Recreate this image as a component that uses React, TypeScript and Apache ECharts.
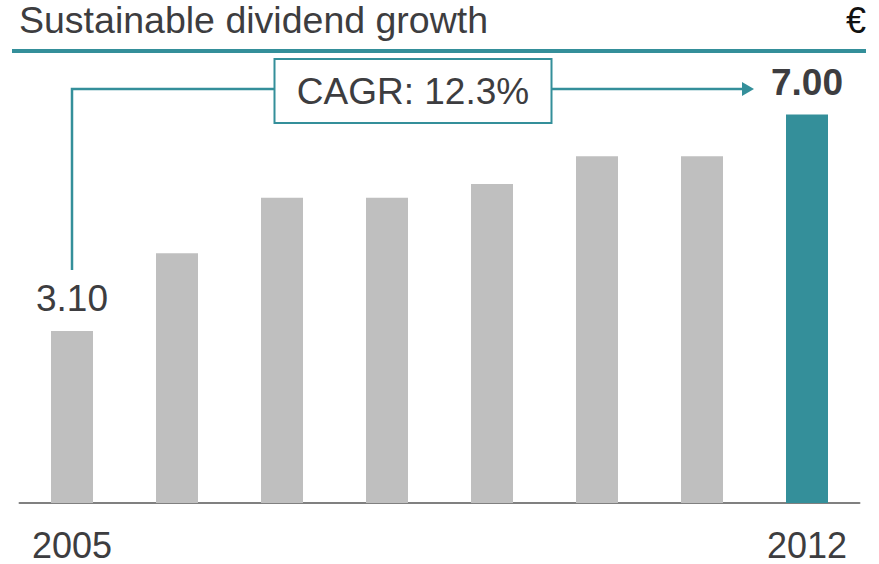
import React, { useEffect, useRef } from "react";
import * as echarts from "echarts";

const years = ["2005", "2006", "2007", "2008", "2009", "2010", "2011", "2012"];
const dividends = [3.1, 4.5, 5.5, 5.5, 5.75, 6.25, 6.25, 7.0];
const shownYearLabels = ["2005", "2012"];
const labelledIndices = [0, 7];
const titleText = "Sustainable dividend growth";
const unitText = "€";
const cagrText = "CAGR: 12.3%";

const TEAL = "#348f9a";
const GRAY = "#bfbfbf";
const TEXT = "#3d3d40";
const FONT = "'Liberation Sans', Arial, Helvetica, sans-serif";

export default function App() {
  const ref = useRef<HTMLDivElement>(null);
  useEffect(() => {
    if (!ref.current) return;
    const chart = echarts.init(ref.current, null, { renderer: "svg" });
    const last = dividends.length - 1;
    const data = dividends.map((v, i) => {
      const item: any = {
        value: v,
        itemStyle: { color: i === last ? TEAL : GRAY },
      };
      if (labelledIndices.includes(i)) {
        item.label = {
          show: true,
          position: "top",
          distance: 14,
          formatter: (p: any) => Number(p.value).toFixed(2),
          fontSize: 37,
          fontFamily: FONT,
          color: TEXT,
          fontWeight: i === last ? "bold" : "normal",
        };
      }
      return item;
    });
    const option: any = {
      animation: false,
      grid: { left: 19.5, right: 19.5, top: 59, bottom: 61, containLabel: false },
      xAxis: {
        type: "category",
        data: years,
        axisLine: { lineStyle: { color: "#808080", width: 2 } },
        axisTick: { show: false },
        axisLabel: {
          interval: 0,
          formatter: (v: string) => (shownYearLabels.includes(v) ? v : ""),
          fontSize: 36,
          fontFamily: FONT,
          color: TEXT,
          margin: 24,
        },
      },
      yAxis: {
        type: "value",
        min: 0,
        max: 8,
        show: false,
        splitLine: { show: false },
      },
      series: [
        {
          type: "bar",
          data,
          barWidth: 42,
        },
      ],
    };
    chart.setOption(option);

    const p0 = chart.convertToPixel({ seriesIndex: 0 }, [0, dividends[0]]) as number[];
    const pL = chart.convertToPixel({ seriesIndex: 0 }, [last, dividends[last]]) as number[];
    const lineY = 89;
    const startX = p0[0];
    const startY = p0[1] - 61;
    const tipX = pL[0] - 53;
    const boxW = 277;
    const boxH = 64;
    const boxCx = (startX + tipX) / 2;
    const boxCy = 91;

    chart.setOption({
      graphic: [
        {
          type: "text",
          left: 19,
          top: 1,
          style: { text: titleText, fontSize: 37.5, fontFamily: FONT, fill: TEXT },
        },
        {
          type: "text",
          right: 13,
          top: 2,
          style: { text: unitText, fontSize: 36, fontFamily: FONT, fill: "#111" },
        },
        {
          type: "rect",
          shape: { x: 12, y: 49, width: 854, height: 4 },
          style: { fill: TEAL },
        },
        {
          type: "polyline",
          shape: { points: [[startX, startY], [startX, lineY], [tipX - 10, lineY]] },
          style: { stroke: TEAL, lineWidth: 2.5, fill: "none" },
        },
        {
          type: "polygon",
          shape: { points: [[tipX - 12, lineY - 7], [tipX, lineY], [tipX - 12, lineY + 7]] },
          style: { fill: TEAL },
        },
        {
          type: "rect",
          shape: { x: boxCx - boxW / 2, y: boxCy - boxH / 2, width: boxW, height: boxH },
          style: { fill: "#fff", stroke: TEAL, lineWidth: 2 },
        },
        {
          type: "text",
          x: boxCx,
          y: boxCy,
          style: {
            text: cagrText,
            fontSize: 37,
            fontFamily: FONT,
            fill: TEXT,
            align: "center",
            verticalAlign: "middle",
          },
        },
      ],
    });
    return () => chart.dispose();
  }, []);
  return <div ref={ref} style={{ width: 879, height: 564, position: "absolute", left: 0, top: 0 }} />;
}
